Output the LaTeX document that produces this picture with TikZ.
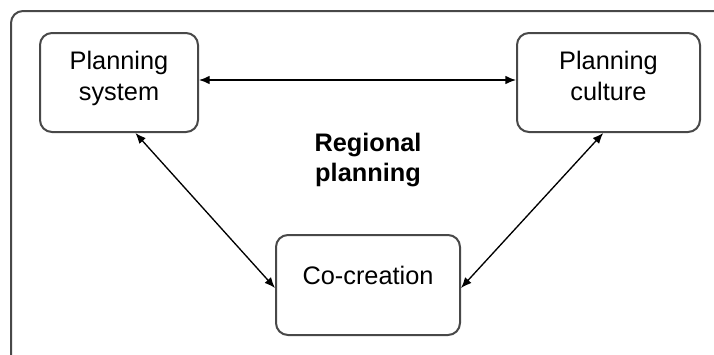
\documentclass[tikz,border=0pt]{standalone}
\usepackage{fontspec}
\setmainfont{Liberation Sans}
\usetikzlibrary{arrows.meta}

\tikzset{every picture/.style={line width=0.75pt}}
\tikzset{
  box/.style={draw={rgb,255:red,72;green,72;blue,72}, line width=1.5pt, rounded corners=9pt,
    align=center, font=\fontsize{19}{23}\selectfont, inner sep=0pt},
  conn/.style={{Latex[length=8pt,width=6.5pt]}-{Latex[length=8pt,width=6.5pt]}, line width=1pt}
}

\begin{document}
\begin{tikzpicture}[x=0.75pt,y=0.75pt,yscale=-1,xscale=1]
\clip (0,0) rectangle (714,354);

%Outer frame
\draw [draw={rgb,255:red,72;green,72;blue,72}, line width=1.5pt, rounded corners=9pt] (11,11) rectangle (740,380);

%Boxes
\node [box, minimum width=118.5pt, minimum height=74.25pt, text depth=10pt] (sys) at (119,82.5) {Planning\\system};
\node [box, minimum width=137.25pt, minimum height=74.25pt, text depth=10pt] (cul) at (608.5,82.5) {Planning\\culture};
\node [box, minimum width=138pt, minimum height=75pt, text height=14pt, text depth=15pt] (co) at (368,285) {Co-creation};

% Text Node
\node [align=center, font=\fontsize{19}{23}\selectfont\bfseries] (reg) at (368,160) {Regional\\planning};

%Connectors
\draw [conn] (sys.east |- 0,80) -- (cul.west |- 0,80);
\draw [conn] (sys.-72) -- ([yshift=2.25pt]co.west);
\draw [conn] (cul.-96) -- ([yshift=2.25pt]co.east);

\end{tikzpicture}
\end{document}
